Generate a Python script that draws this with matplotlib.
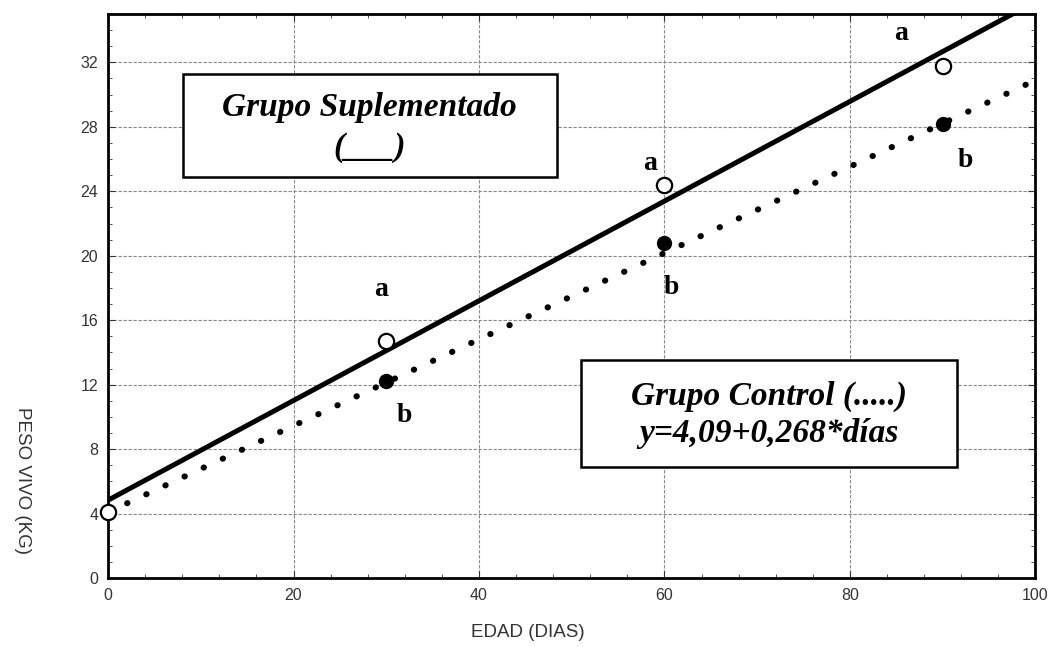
#!/usr/bin/env python3
"""Peso vivo vs edad: grupo suplementado y grupo control."""

import matplotlib as mpl
mpl.use("Agg")
import matplotlib.pyplot as plt
import numpy as np
from matplotlib.ticker import MultipleLocator

# data
dias = [0, 30, 60, 90]
peso_supl = [4.1, 14.7, 24.4, 31.8]
dias_ctrl = [30, 60, 90]
peso_ctrl = [12.2, 20.8, 28.2]
ctrl_coef = [4.09, 0.268]          # y = 4.09 + 0.268 * dias
letras_supl = ["a", "a", "a"]
letras_ctrl = ["b", "b", "b"]

SERIF = ["Liberation Serif", "DejaVu Serif"]
SANS = ["Liberation Sans", "DejaVu Sans"]

fig = plt.figure(figsize=(10.49, 6.47), dpi=100)
ax = fig.add_axes([0.103, 0.1066, 0.884, 0.8717])

xs = np.array([0, 100])

# supplemented: regression on its points (solid)
b1, b0 = np.polyfit(dias, peso_supl, 1)
ax.plot(xs, b0 + b1 * xs, color="black", lw=3.6, solid_capstyle="butt", zorder=3)

# control: dotted
ax.plot(xs, ctrl_coef[0] + ctrl_coef[1] * xs, color="black", lw=4.4,
        linestyle=(0, (0.05, 3.4)), dash_capstyle="round", zorder=3)

ax.plot(dias, peso_supl, "o", ms=11, mfc="white", mec="black", mew=1.6, zorder=4,
        clip_on=False)
ax.plot(dias_ctrl, peso_ctrl, "o", ms=10, mfc="black", mec="black", zorder=4)

# letters (offsets from each point, in data units)
off_supl = [(-0.6, 3.2), (-1.5, 1.3), (-4.5, 2.0)]
off_ctrl = [(1.9, -2.1), (0.8, -2.8), (2.4, -2.3)]
for x, y, t, (dx, dy) in zip(dias[1:], peso_supl[1:], letras_supl, off_supl):
    ax.text(x + dx, y + dy, t, ha="center", va="center",
            fontsize=20, fontweight="bold", family=SERIF)
for x, y, t, (dx, dy) in zip(dias_ctrl, peso_ctrl, letras_ctrl, off_ctrl):
    ax.text(x + dx, y + dy, t, ha="center", va="center",
            fontsize=20, fontweight="bold", family=SERIF)

# boxes
ax.add_patch(plt.Rectangle((8.1, 24.9), 40.3, 6.4, transform=ax.transData,
                           fc="white", ec="black", lw=1.8, zorder=5))
ax.text(28.2, 29.2, "Grupo Suplementado", ha="center", va="center", fontsize=24,
        fontweight="bold", fontstyle="italic", family=SERIF, zorder=6)
ax.text(28.2, 26.7, "(___)", ha="center", va="center", fontsize=24,
        fontweight="bold", fontstyle="italic", family=SERIF, zorder=6)

ax.add_patch(plt.Rectangle((51.0, 6.9), 40.6, 6.6, transform=ax.transData,
                           fc="white", ec="black", lw=1.8, zorder=5))
ax.text(71.3, 11.3, "Grupo Control (.....)", ha="center", va="center", fontsize=24,
        fontweight="bold", fontstyle="italic", family=SERIF, zorder=6)
ax.text(71.3, 8.95, "y=4,09+0,268*días", ha="center", va="center", fontsize=24,
        fontweight="bold", fontstyle="italic", family=SERIF, zorder=6)

# axes
ax.set_xlim(0, 100)
ax.set_ylim(0, 35)
ax.xaxis.set_major_locator(MultipleLocator(20))
ax.yaxis.set_major_locator(MultipleLocator(4))
ax.xaxis.set_minor_locator(MultipleLocator(4))
ax.yaxis.set_minor_locator(MultipleLocator(1))
ax.tick_params(which="both", direction="in", top=True, right=True, color="#333333")
ax.tick_params(which="major", length=5, labelsize=11.5, labelcolor="#333333", pad=7)
ax.tick_params(which="minor", length=3)
for lab in ax.get_xticklabels() + ax.get_yticklabels():
    lab.set_family(SANS)
ax.grid(True, which="major", color="#888888", lw=0.8, ls=(0, (3, 1.5)))
for s in ax.spines.values():
    s.set_linewidth(2.0)

fig.text(0.503, 0.023, "EDAD (DIAS)", ha="center", va="center", fontsize=13.5,
         color="#333333", family=SANS)
fig.text(0.021, 0.258, "PESO VIVO (KG)", ha="center", va="center", fontsize=13.5,
         color="#333333", rotation=270, family=SANS)

fig.savefig("out.png", dpi=100)
